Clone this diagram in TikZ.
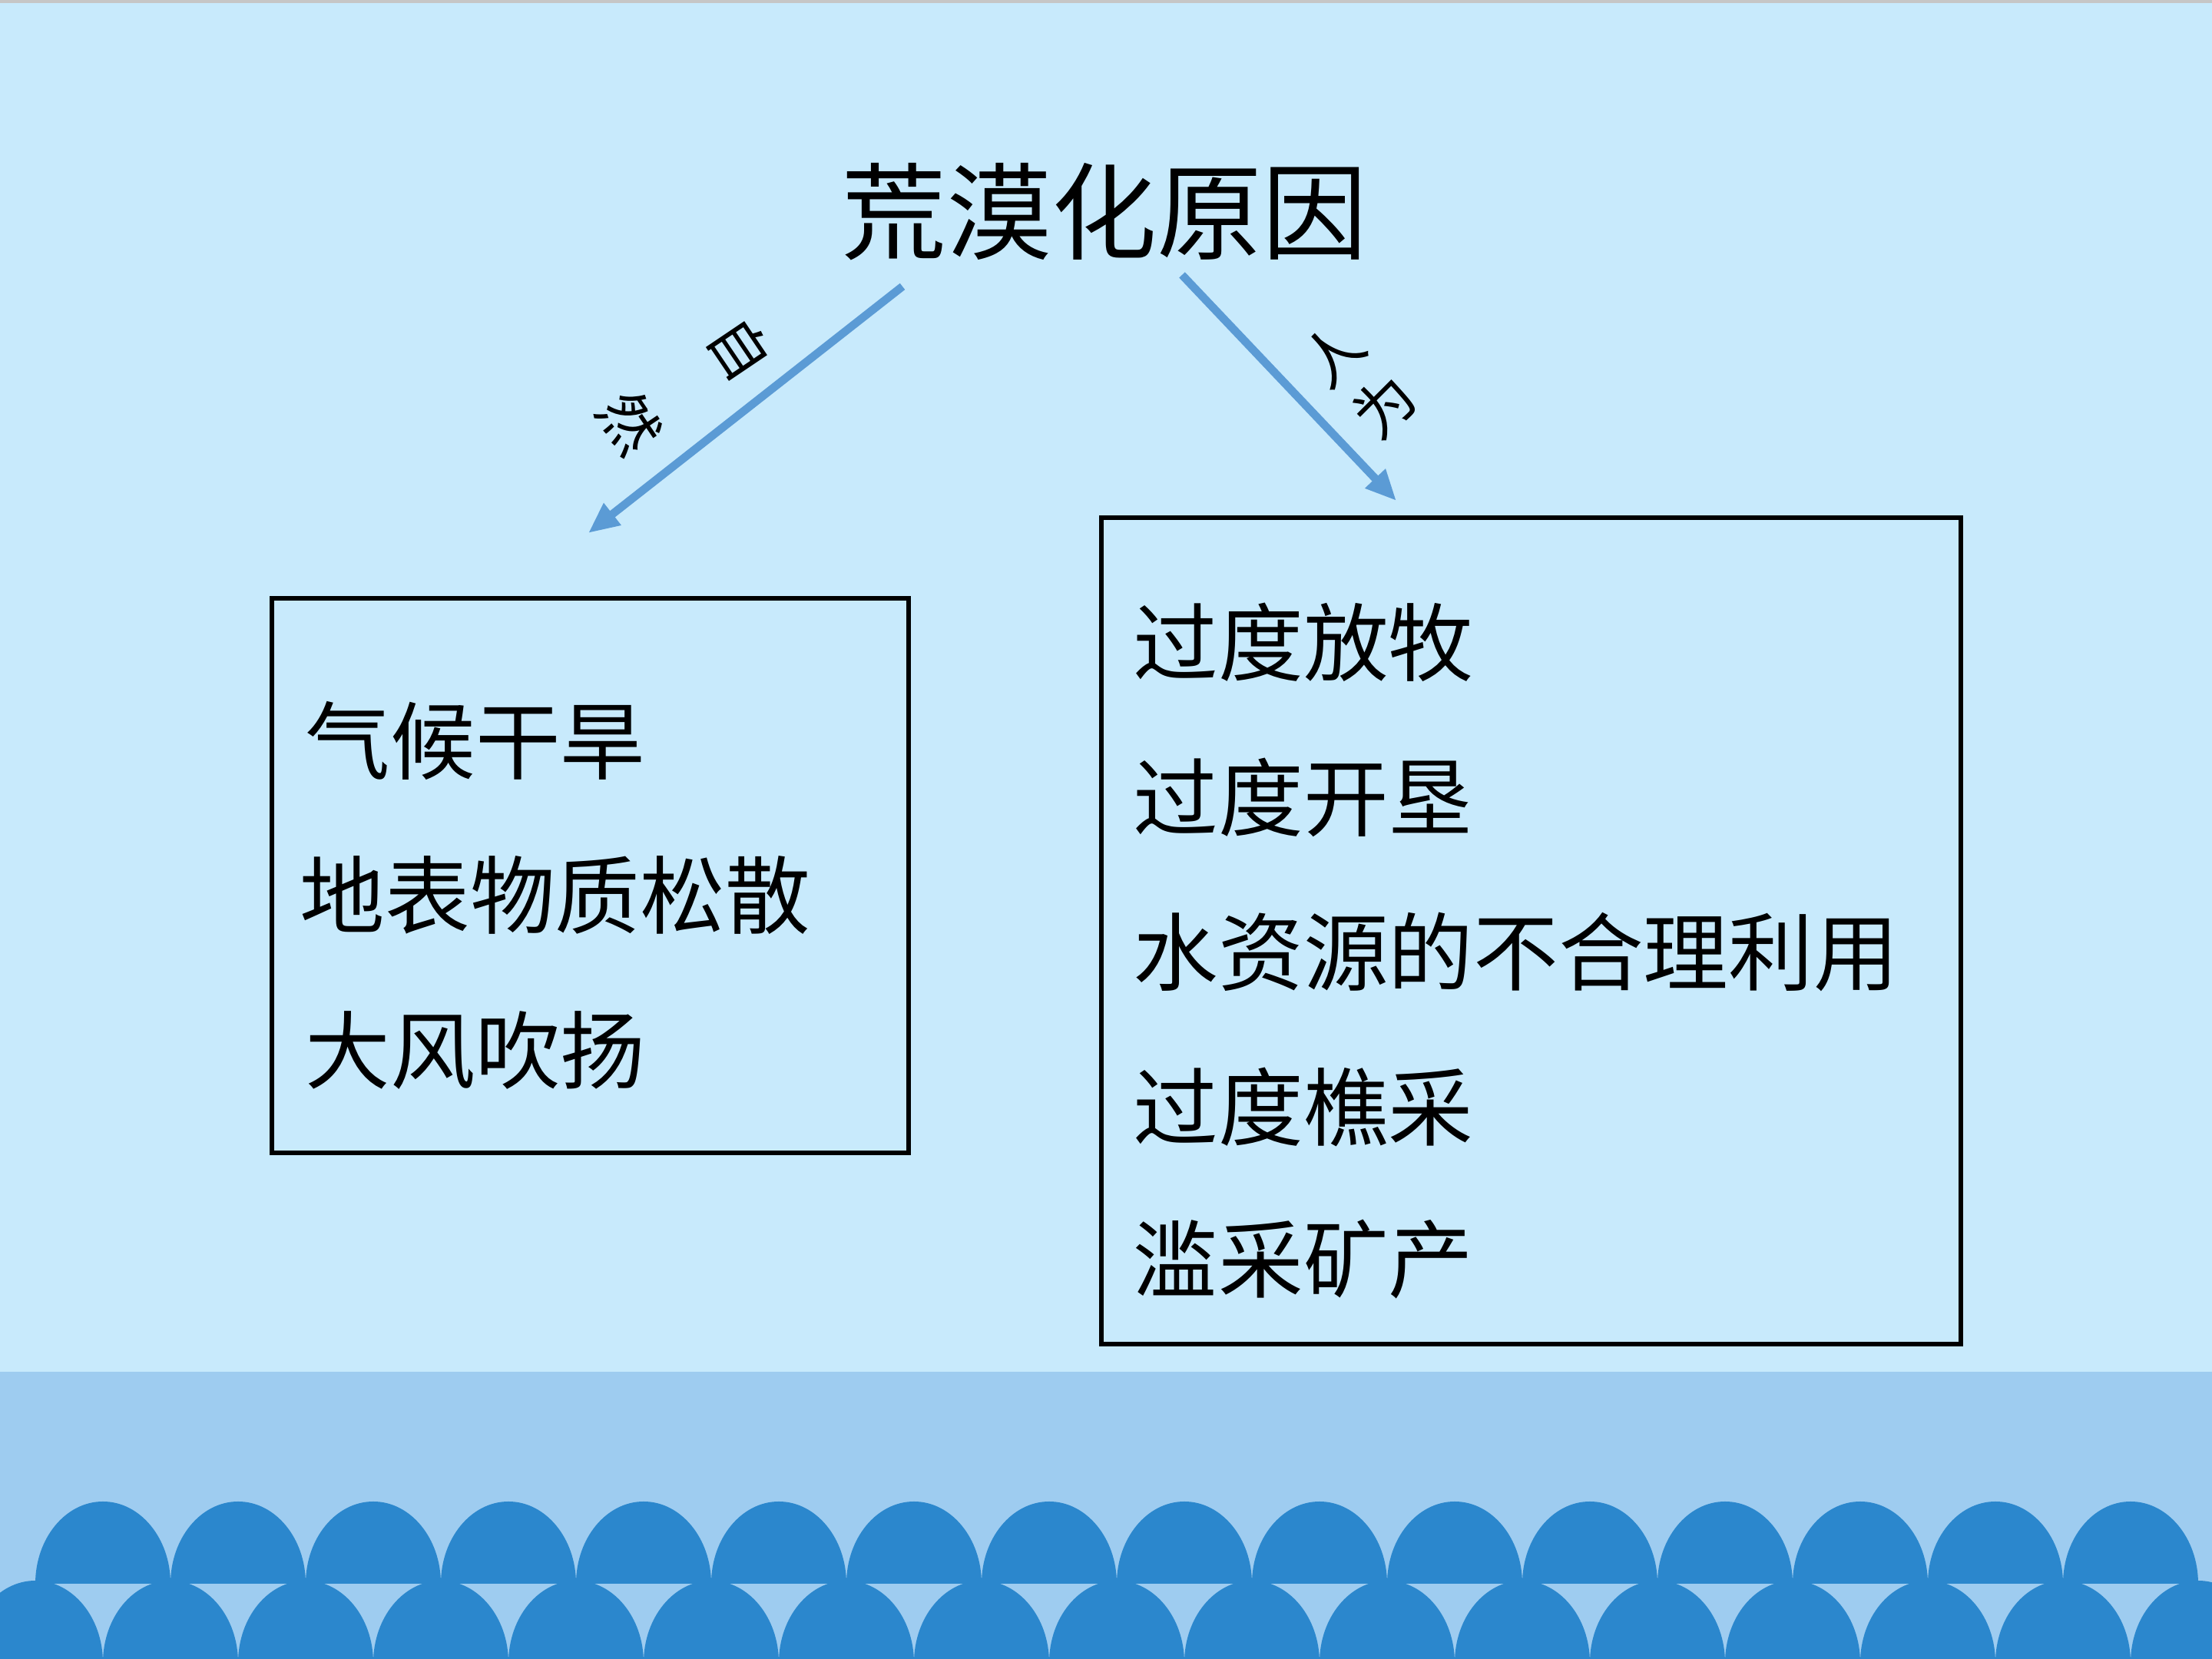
\documentclass[tikz,border=0pt]{standalone}
\usepackage{fontspec}
\newfontfamily\cjk{Noto Sans CJK SC}
\usetikzlibrary{arrows.meta}
\definecolor{bgblue}{HTML}{C8EAFC}
\definecolor{bandblue}{HTML}{9ECCF0}
\definecolor{waveblue}{HTML}{2B87CD}
\definecolor{arrowblue}{HTML}{5B9BD5}

\begin{document}
\begin{tikzpicture}[
    causebox/.style={draw, rectangle, line width=1.5pt},
    causetext/.style={anchor=west, inner sep=0pt, font=\cjk\fontsize{31.5}{36}\selectfont},
    causearrow/.style={arrowblue, line width=3pt, -{Triangle[length=0.4cm, width=0.34cm]}},
    sidelabel/.style={align=center, inner sep=0pt, font=\cjk\fontsize{22}{26}\selectfont}
  ]
    % 背景
    \useasboundingbox (0,0) rectangle (28.8,21.6);
    \fill[bgblue] (0,0) rectangle (28.8,21.6);
    \fill[gray!45] (0,21.56) rectangle (28.8,21.6);
    \fill[bandblue] (0,0) rectangle (28.8,3.74);

    % 波浪
    \begin{scope}
      \clip (0,0) rectangle (28.8,3.74);
      \foreach \k in {0,...,15}
        \fill[waveblue] ({0.46+1.76*\k},0.98) arc[start angle=180, end angle=0, x radius=0.88, y radius=1.07] -- cycle;
      \foreach \k in {0,...,16}
        \fill[waveblue] ({-0.42+1.76*\k},-0.05) arc[start angle=180, end angle=0, x radius=0.88, y radius=1.07] -- cycle;
    \end{scope}

    % 标题
    \node[font=\cjk\fontsize{39}{44}\selectfont] (title) at (14.38,18.84) {荒漠化原因};

    % 自然原因
    \node[causebox, minimum width=8.29cm, minimum height=7.22cm] (natbox) at (7.685,10.20) {};
    \node[causetext] (nat1) at (3.97,11.96) {气候干旱};
    \node[causetext] (nat2) at (3.90,9.94) {地表物质松散};
    \node[causetext] (nat3) at (3.97,7.92) {大风吹扬};

    % 人为原因
    \node[causebox, minimum width=11.19cm, minimum height=10.76cm] (humbox) at (19.935,9.48) {};
    \node[causetext] (hum1) at (14.75,13.24) {过度放牧};
    \node[causetext] (hum2) at (14.75,11.22) {过度开垦};
    \node[causetext] (hum3) at (14.75,9.20) {水资源的不合理利用};
    \node[causetext] (hum4) at (14.75,7.18) {过度樵采};
    \node[causetext] (hum5) at (14.75,5.20) {滥采矿产};

    % 箭头
    \coordinate (natstart) at (11.75,17.87);
    \coordinate (natend) at (7.66,14.66);
    \coordinate (humstart) at (15.39,18.02);
    \coordinate (humend) at (18.18,15.08);
    \draw[causearrow] (natstart) -- (natend);
    \draw[causearrow] (humstart) -- (humend);
    \node[sidelabel, rotate=-56] (natlabel) at (8.92,16.58) {自\\[23pt]然};
    \node[sidelabel, rotate=45] (humlabel) at (17.68,16.65) {人\\[1pt]为};
\end{tikzpicture}
\end{document}
